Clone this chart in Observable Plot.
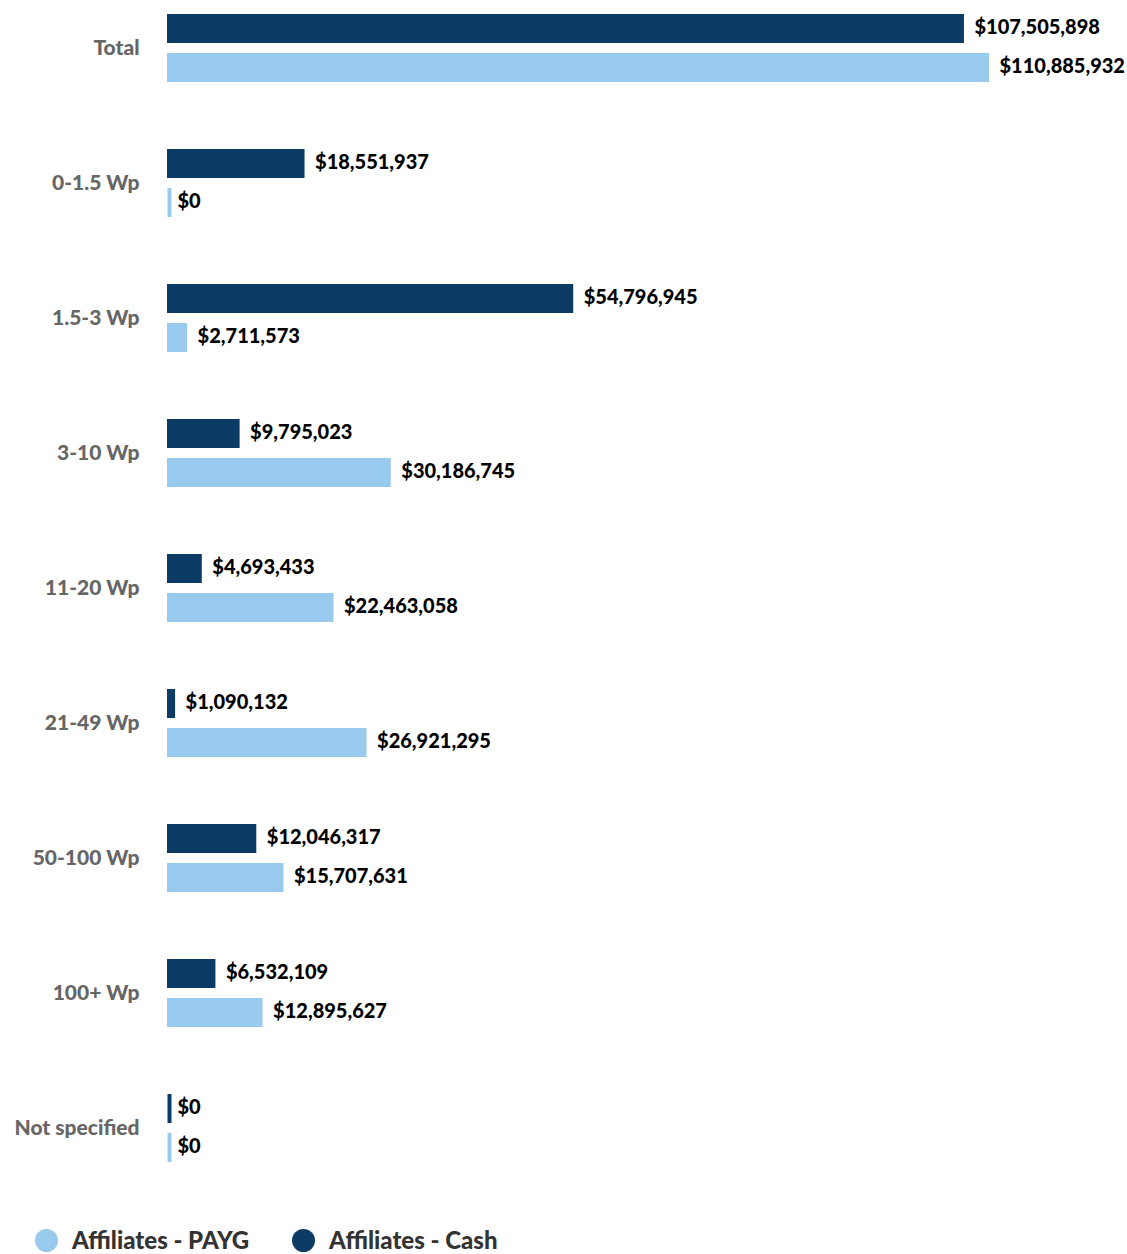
<!DOCTYPE html>
<html>
<head>
<meta charset="utf-8">
<script src="https://cdn.jsdelivr.net/npm/d3@7"></script>
<script src="https://cdn.jsdelivr.net/npm/@observablehq/plot@0.6"></script>
<style>
  html, body { margin: 0; padding: 0; background: #fff; }
  #chart { width: 1127px; }
  .legend { display: flex; align-items: center; margin-top: 52px; margin-left: 35px; font-family: Lato, "Noto Sans", sans-serif; font-weight: 900; font-size: 24px; line-height: 24px; color: #333; height: 24px; }
  .legend .item { display: flex; align-items: center; margin-right: 43px; }
  .legend .sw { width: 23px; height: 23px; border-radius: 50%; margin-right: 14px; }
</style>
</head>
<body>
<div id="chart"></div>
<script>
const categories = ["Total", "0-1.5 Wp", "1.5-3 Wp", "3-10 Wp", "11-20 Wp", "21-49 Wp", "50-100 Wp", "100+ Wp", "Not specified"];
const seriesNames = ["Affiliates - Cash", "Affiliates - PAYG"];
const cashValues = [107505898, 18551937, 54796945, 9795023, 4693433, 1090132, 12046317, 6532109, 0];
const paygValues = [110885932, 0, 2711573, 30186745, 22463058, 26921295, 15707631, 12895627, 0];
const seriesColors = ["#0c3c66", "#98caee"];
const legendOrder = ["Affiliates - PAYG", "Affiliates - Cash"];

const rows = [];
categories.forEach((c, i) => {
  rows.push({category: c, series: seriesNames[0], value: cashValues[i]});
  rows.push({category: c, series: seriesNames[1], value: paygValues[i]});
});
const fmt = v => "$" + d3.format(",")(v);
const color = {domain: seriesNames, range: seriesColors};

const plot = Plot.plot({
  width: 1127,
  height: 1176,
  marginLeft: 167,
  marginRight: 138,
  marginTop: 0,
  marginBottom: 0,
  style: {fontFamily: "Lato, 'Noto Sans', sans-serif", fontSize: "21px", fontWeight: 900, color: "#666", background: "#fff"},
  x: {domain: [0, d3.max(paygValues.concat(cashValues))], axis: null},
  y: {domain: seriesNames, axis: null, paddingInner: 10/39, paddingOuter: 0},
  fy: {domain: categories, axis: "left", label: null, tickSize: 0, tickPadding: 28, paddingInner: 67/135, paddingOuter: 14/135},
  color: color,
  marks: [
    Plot.tickX(rows, {fy: "category", y: "series", x: 0, stroke: "series", strokeWidth: 4, dx: 2}),
    Plot.barX(rows, {fy: "category", y: "series", x1: 0, x2: "value", fill: "series"}),
    Plot.text(rows, {fy: "category", y: "series", x: "value", text: d => fmt(d.value), textAnchor: "start", dx: 10, dy: -1, fill: "#000", fontSize: 20, fontWeight: 900})
  ]
});
document.getElementById("chart").appendChild(plot);

const legend = document.createElement("div");
legend.className = "legend";
legendOrder.forEach(name => {
  const item = document.createElement("div");
  item.className = "item";
  const sw = document.createElement("span");
  sw.className = "sw";
  sw.style.background = seriesColors[seriesNames.indexOf(name)];
  const lab = document.createElement("span");
  lab.textContent = name;
  item.appendChild(sw);
  item.appendChild(lab);
  legend.appendChild(item);
});
document.getElementById("chart").appendChild(legend);
</script>
</body>
</html>
